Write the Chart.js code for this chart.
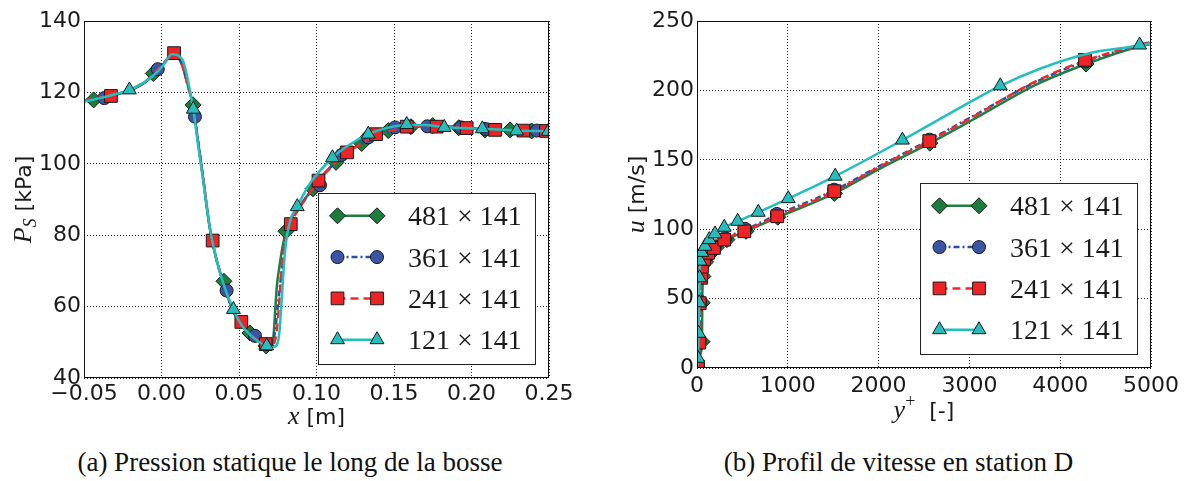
<!DOCTYPE html>
<html><head><meta charset="utf-8">
<script src="https://cdn.jsdelivr.net/npm/chart.js@4.4.0/dist/chart.umd.min.js"></script>
<style>
html,body{margin:0;padding:0;background:#fff;}
#wrap{position:relative;width:1189px;height:481px;overflow:hidden;background:#fff;}
#c1{position:absolute;left:0;top:0;}
#c2{position:absolute;left:595px;top:0;}
.cap{position:absolute;top:447px;font-family:"Liberation Serif","Times New Roman",serif;font-size:27px;line-height:31px;color:#111;white-space:nowrap;text-align:center;}
</style></head><body>
<div id="wrap">
<canvas id="c1" width="595" height="440"></canvas>
<canvas id="c2" width="594" height="440"></canvas>
<div class="cap" style="left:0;width:580px;">(a) Pression statique le long de la bosse</div>
<div class="cap" style="left:600px;width:597px;">(b) Profil de vitesse en station D</div>
</div>
<script>
// ================= DATA =================
const seriesLabels = ['481 \u00d7 141', '361 \u00d7 141', '241 \u00d7 141', '121 \u00d7 141'];

// ---- (a) static pressure Ps [kPa] vs x [m] ----
const a_xTicks = [-0.05, 0.00, 0.05, 0.10, 0.15, 0.20, 0.25];
const a_yTicks = [40, 60, 80, 100, 120, 140];

// 481 x 141 (line)
const a_g_x = [-0.05,-0.04,-0.03,-0.02,-0.01,-0.004,0.002,0.006,0.009,0.013,0.017,0.0205,0.0235,0.027,0.031,0.035,0.040,0.045,0.050,0.055,0.060,0.065,0.069,0.0712,0.0725,0.0735,0.0745,0.0760,0.0780,0.0803,0.084,0.090,0.096,0.102,0.110,0.120,0.130,0.140,0.150,0.160,0.170,0.180,0.190,0.200,0.210,0.220,0.230,0.240,0.250];
const a_g_y = [117.6,118.3,119.3,120.6,123.0,125.5,128.3,130.2,130.3,128.0,122.0,116.0,106.5,95.5,82.5,74.0,66.5,60.0,55.8,53.0,51.2,49.7,48.7,48.8,53.0,60.0,66.0,71.0,76.5,81.0,85.0,88.7,92.2,95.8,99.5,103.3,106.0,108.2,109.5,110.3,110.6,110.6,110.3,110.0,109.7,109.5,109.3,109.2,109.1];
// 481 x 141 (markers)
const a_g_mx = [-0.0438,-0.0053,0.0204,0.0403,0.0571,0.0675,0.0803,0.0977,0.1126,0.1292,0.1463,0.1609,0.1750,0.1918,0.2087,0.2249,0.2388];
const a_g_my = [117.9,125.3,116.5,67.1,52.6,49.0,81.1,93.0,100.4,105.7,109.3,110.4,110.7,110.1,109.5,109.5,109.2];

// 361 x 141
const a_b_x = [-0.05,-0.04,-0.03,-0.02,-0.01,-0.004,0.002,0.006,0.009,0.013,0.017,0.0205,0.0235,0.027,0.031,0.035,0.040,0.045,0.050,0.055,0.060,0.065,0.069,0.0712,0.0735,0.0750,0.0765,0.0790,0.0834,0.090,0.096,0.102,0.110,0.120,0.130,0.140,0.150,0.160,0.170,0.180,0.190,0.200,0.210,0.220,0.230,0.240,0.250];
const a_b_y = [117.7,118.4,119.4,120.7,123.1,125.6,128.4,130.3,130.4,128.0,121.9,115.9,106.5,95.5,82.5,74.0,66.5,60.0,55.8,53.0,51.2,49.7,48.7,48.8,54.0,60.0,66.0,76.0,83.4,88.5,92.1,95.7,99.4,103.2,106.0,108.1,109.5,110.3,110.5,110.5,110.2,109.9,109.6,109.4,109.3,109.2,109.1];
const a_b_mx = [-0.0369,-0.0024,0.0216,0.0420,0.0603,0.1022,0.1162,0.1334,0.1507,0.1715,0.1932,0.2095,0.2421];
const a_b_my = [118.4,126.5,113.2,64.5,51.8,94.0,102.5,107.4,110.2,110.5,110.2,109.7,109.3];

// 241 x 141
const a_r_x = [-0.05,-0.04,-0.03,-0.02,-0.01,-0.004,0.002,0.006,0.009,0.013,0.017,0.0205,0.0235,0.027,0.031,0.035,0.040,0.045,0.050,0.055,0.060,0.065,0.069,0.0712,0.0735,0.0748,0.0760,0.0786,0.0834,0.090,0.096,0.102,0.110,0.120,0.130,0.140,0.150,0.160,0.170,0.180,0.190,0.200,0.210,0.220,0.230,0.240,0.250];
const a_r_y = [117.7,118.5,119.5,120.8,123.2,125.7,128.5,130.4,130.5,128.0,121.8,115.8,106.5,95.5,82.5,74.0,66.5,60.0,55.8,53.0,51.2,49.7,48.7,48.8,51.0,55.0,61.4,75.3,83.1,88.3,92.0,95.6,99.3,103.1,105.9,108.1,109.5,110.3,110.5,110.5,110.2,109.9,109.6,109.4,109.3,109.2,109.1];
const a_r_mx = [-0.0326,0.0081,0.0330,0.0515,0.0672,0.0834,0.1013,0.1197,0.1384,0.1582,0.1775,0.1969,0.2152,0.2335,0.2481];
const a_r_my = [119.0,131.0,78.5,55.7,49.5,83.1,95.3,103.2,108.3,110.4,110.4,110.0,109.5,109.3,109.2];

// 121 x 141
const a_c_x = [-0.05,-0.04,-0.03,-0.0207,-0.012,-0.005,0.001,0.0068,0.0138,0.017,0.0205,0.024,0.027,0.031,0.035,0.040,0.0464,0.052,0.058,0.064,0.0685,0.0733,0.0760,0.0775,0.0797,0.0830,0.0876,0.095,0.1103,0.120,0.1334,0.145,0.1582,0.170,0.1824,0.195,0.2070,0.2291,0.25];
const a_c_y = [117.4,118.4,119.5,120.7,122.6,124.8,127.5,130.7,128.9,123.5,115.3,104.0,95.0,82.5,74.0,66.3,59.2,54.6,51.8,49.8,48.6,48.8,52.5,61.5,75.5,84.0,88.0,94.0,101.7,105.0,108.3,110.0,110.9,110.9,110.3,110.0,109.8,109.3,109.1];
const a_c_mx = [-0.0207,0.0205,0.0464,0.0679,0.0876,0.1103,0.1334,0.1582,0.1824,0.2070,0.2291,0.2496];
const a_c_my = [120.7,115.3,59.2,49.0,88.0,101.7,108.3,111.0,110.2,109.8,109.2,109.1];

// ---- (b) velocity profile u [m/s] vs y+ ----
const b_xTicks = [0, 1000, 2000, 3000, 4000, 5000];
const b_yTicks = [0, 50, 100, 150, 200, 250];

const b_g_x = [0,20,45,55,58,65,95,140,210,330,540,890,1512,2010,2565,3027,3730,4285,4856,5000];
const b_g_y = [0,4,12,19,47,66,76.5,82,86.8,92.5,98.5,108.6,125.8,143.5,162,178.5,204,219,231.5,233.5];
const b_g_mx = [55,58,65,95,140,210,330,540,890,1512,2565,4285];
const b_g_my = [19,47,66,76.5,82,86.8,92.5,98.5,108.6,125.8,162,219];

const b_b_x = [0,12,28,32,48,60,82,130,195,310,530,880,1510,2010,2560,3027,3730,4280,4856,5000];
const b_b_y = [0,2,19,47,65.5,73.5,79,83.5,87.5,93.5,99.5,110.3,128,145.5,164.3,181,206,221,232.3,234.8];
const b_b_mx = [12,28,32,48,60,82,130,195,310,530,880,1510,2560,4280];
const b_b_my = [2,19,47,65.5,73.5,79,83.5,87.5,93.5,100.3,111,128.5,164.5,221];

const b_r_x = [0,10,25,30,45,55,77,124,187,300,521,884,1512,2010,2558,3027,3730,4273,4856,5000];
const b_r_y = [0,1,18.3,46.7,65,73,78.5,83,86.5,92.5,98.5,109.3,127.2,145,163.5,180.5,206.5,221.5,232.5,235];
const b_r_mx = [10,25,30,45,55,77,124,187,300,521,884,1512,2558,4273];
const b_r_my = [1,18.3,46.7,65,73,78.5,83,86.5,92.5,98.5,109.3,127.4,163.5,222];

const b_c_x = [0,10,18,24,28,34,52,88,135,198,300,448,675,1005,1522,2262,2800,3340,3784,4320,4875,5000];
const b_c_y = [0,7,25,47,65,77,83.3,87.7,92.5,96.6,101.4,105.7,112.2,122,138.2,164.2,184,203.3,215.8,226.8,232.3,234];
const b_c_mx = [10,18,24,28,34,52,88,135,198,300,448,675,1005,1522,2262,3340,4875];
const b_c_my = [7,25,47,65,77,83.3,87.7,92.5,96.6,101.4,105.7,112.2,122,138.2,164.2,203.3,232.7];

// ================= STYLE =================
const STY = [
  {fill:'#1b7d3b', line:'#1e7f3e', ps:'rectRot',  r:8,   dash:[]},
  {fill:'#3a55a6', line:'#2c4ca8', ps:'circle',   r:6.5, dash:[6,3,2,3]},
  {fill:'#ee2326', line:'#ee2a2c', ps:'rect',     r:9,   dash:[8,5]},
  {fill:'#27bdbd', line:'#21bfbf', ps:'triangle', r:8,   dash:[]}
];
const TXT = '#1a1a1a';
const TICKFONT = {family:'DejaVu Sans', size:22};

function zip(xs, ys){ return xs.map((x,i)=>({x:x, y:ys[i]})); }

function buildSets(lines, marks){
  const sets = [];
  STY.forEach((s,i)=>{
    const ord = (4-i)*2;
    sets.push({data: zip(lines[i][0], lines[i][1]), showLine:true, borderColor:s.line, borderWidth:2.5,
      borderDash:s.dash, pointRadius:0, pointHoverRadius:0, cubicInterpolationMode:'monotone', fill:false, order:ord, clip:0});
    sets.push({data: zip(marks[i][0], marks[i][1]), showLine:false, pointStyle:s.ps, pointRadius:s.r, pointHoverRadius:s.r,
      backgroundColor:s.fill, borderColor:'#1a1a1a', borderWidth:1, order:ord-1, clip:0});
  });
  return sets;
}

function drawRich(ctx, parts, cx, cy, rot){
  ctx.save();
  ctx.translate(cx, cy);
  if (rot) ctx.rotate(-Math.PI/2);
  let total = 0;
  parts.forEach(p=>{ ctx.font = p.f; p.w = ctx.measureText(p.t).width; total += p.w; });
  let x = -total/2;
  ctx.fillStyle = TXT; ctx.textBaseline = 'alphabetic'; ctx.textAlign = 'left';
  parts.forEach(p=>{ ctx.font = p.f; ctx.fillText(p.t, x, p.dy||0); x += p.w; });
  ctx.restore();
}

const deco = {
  id:'deco',
  afterDraw(chart, args, o){
    const ctx = chart.ctx, a = chart.chartArea;
    ctx.save();
    // frame
    ctx.setLineDash([]);
    ctx.strokeStyle = '#111'; ctx.lineWidth = 1;
    ctx.strokeRect(Math.round(a.left)+0.5, Math.round(a.top)+0.5, Math.round(a.right-a.left)-1, Math.round(a.bottom-a.top)-1);
    // axis titles
    drawRich(ctx, o.xTitle, (a.left+a.right)/2, a.bottom + o.xTitleOff, false);
    drawRich(ctx, o.yTitle, a.left - o.yTitleOff, (a.top+a.bottom)/2, true);
    // legend
    const W = 217, H = 171;
    const L = Math.round(a.right - 14 - W) + 0.5, T = Math.round(a.bottom - 14.5 - H) + 0.5;
    ctx.fillStyle = '#fff'; ctx.fillRect(L, T, W, H);
    ctx.strokeStyle = '#222'; ctx.lineWidth = 1; ctx.strokeRect(L, T, W, H);
    STY.forEach((s,i)=>{
      const y = T + 22.3 + i*41.3;
      const x1 = L + 19, x2 = L + 58.5;
      ctx.save();
      ctx.strokeStyle = s.line; ctx.lineWidth = 2.5; ctx.setLineDash(s.dash);
      ctx.beginPath(); ctx.moveTo(x1, y); ctx.lineTo(x2, y); ctx.stroke();
      ctx.restore();
      ctx.save();
      ctx.setLineDash([]);
      ctx.fillStyle = s.fill; ctx.strokeStyle = '#1a1a1a'; ctx.lineWidth = 1;
      [x1, x2].forEach(px=> Chart.helpers.drawPoint(ctx, {pointStyle:s.ps, radius:s.r, rotation:0, borderWidth:1}, px, y));
      ctx.restore();
      ctx.fillStyle = TXT;
      ctx.font = '28px "Liberation Serif"';
      ctx.textBaseline = 'alphabetic'; ctx.textAlign = 'left';
      ctx.fillText(seriesLabels[i], L + 89.5, y + 9.5);
    });
    ctx.restore();
  }
};

function makeChart(id, sets, xs, ys, opts){
  const fmtX = opts.fmtX;
  return new Chart(document.getElementById(id), {
    type:'scatter',
    data:{datasets:sets},
    options:{
      responsive:false, animation:false, devicePixelRatio:1, events:[],
      layout:{padding:{left:0, right:opts.padRight, top:21, bottom:0}},
      plugins:{legend:{display:false}, tooltip:{enabled:false}, deco:opts.deco},
      scales:{
        x:{type:'linear', min:xs[0], max:xs[xs.length-1],
           afterBuildTicks:(s)=>{ s.ticks = xs.map(v=>({value:v})); },
           afterFit:(s)=>{ s.height = opts.xH; },
           grid:{color:'rgba(0,0,0,0.85)', lineWidth:1, drawTicks:false},
           border:{display:false, dash:[1,2]},
           ticks:{font:TICKFONT, color:TXT, padding:opts.xPad, maxRotation:0, autoSkip:false, callback:fmtX}},
        y:{type:'linear', min:ys[0], max:ys[ys.length-1],
           afterBuildTicks:(s)=>{ s.ticks = ys.map(v=>({value:v})); },
           afterFit:(s)=>{ s.width = opts.yW; },
           grid:{color:'rgba(0,0,0,0.85)', lineWidth:1, drawTicks:false},
           border:{display:false, dash:[1,2]},
           ticks:{font:TICKFONT, color:TXT, padding:3, autoSkip:false, callback:(v)=>String(Math.round(v))}}
      }
    },
    plugins:[deco]
  });
}

const SERIF_I = 'italic 26px "Liberation Serif"';
const SANS = '22px "DejaVu Sans"';

makeChart('c1',
  buildSets([[a_g_x,a_g_y],[a_b_x,a_b_y],[a_r_x,a_r_y],[a_c_x,a_c_y]],
            [[a_g_mx,a_g_my],[a_b_mx,a_b_my],[a_r_mx,a_r_my],[a_c_mx,a_c_my]]),
  a_xTicks, a_yTicks,
  {padRight:46, xH:62, yW:84, xPad:3,
   fmtX:(v)=>{ if (Math.abs(v)<1e-9) return '0.00'; return v<0 ? '\u2212'+Math.abs(v).toFixed(2) : v.toFixed(2); },
   deco:{xTitleOff:46, yTitleOff:53,
     xTitle:[{t:'x', f:SERIF_I},{t:' [m]', f:SANS}],
     yTitle:[{t:'P', f:SERIF_I},{t:'S', f:'italic 18px "Liberation Serif"', dy:5},{t:' [kPa]', f:SANS}]}});

makeChart('c2',
  buildSets([[b_g_x,b_g_y],[b_b_x,b_b_y],[b_r_x,b_r_y],[b_c_x,b_c_y]],
            [[b_g_mx,b_g_my],[b_b_mx,b_b_my],[b_r_mx,b_r_my],[b_c_mx,b_c_my]]),
  b_xTicks, b_yTicks,
  {padRight:38, xH:72, yW:102, xPad:5,
   fmtX:(v)=>String(Math.round(v)),
   deco:{xTitleOff:50, yTitleOff:53,
     xTitle:[{t:'y', f:SERIF_I},{t:'+', f:'18px "Liberation Serif"', dy:-11},{t:'  [-]', f:SANS}],
     yTitle:[{t:'u', f:SERIF_I},{t:' [m/s]', f:SANS}]}});
</script>
</body></html>
